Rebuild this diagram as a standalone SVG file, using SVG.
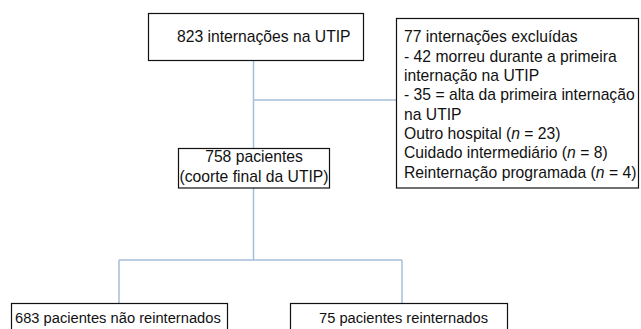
<svg xmlns="http://www.w3.org/2000/svg" width="641" height="329" viewBox="0 0 641 329">
<style>
.box{fill:#fff;stroke:#111;stroke-width:1.2}
.t{font-family:"Liberation Sans",Arial,sans-serif;font-size:15.7px;fill:#111}
.s{font-size:14.7px}
.c{fill:none;stroke:#a6bfd9;stroke-width:1.5}
</style>
<rect width="641" height="329" fill="#fff"/>
<g id="connectors">
<path class="c" d="M253.5 61V148"/>
<path class="c" d="M253.5 100H396"/>
<path class="c" d="M253.5 188V260M119 260H402M119 260V303M402 260V303"/>
</g>
<g id="n1">
<rect class="box" x="148.5" y="13.5" width="215" height="47"/>
<text class="t" x="177" y="42">823 internações na UTIP</text>
</g>
<g id="n2">
<rect class="box" x="396.5" y="18.5" width="242" height="169.5"/>
<text class="t" x="404">
<tspan x="404" y="42">77 internações excluídas</tspan>
<tspan x="404" y="61.5">- 42 morreu durante a primeira</tspan>
<tspan x="404" y="81">internação na UTIP</tspan>
<tspan x="404" y="100">- 35 = alta da primeira internação</tspan>
<tspan x="404" y="119.5">na UTIP</tspan>
<tspan x="404" y="139">Outro hospital (<tspan font-style="italic">n</tspan> = 23)</tspan>
<tspan x="404" y="158">Cuidado intermediário (<tspan font-style="italic">n</tspan> = 8)</tspan>
<tspan x="404" y="177.5">Reinternação programada (<tspan font-style="italic">n</tspan> = 4)</tspan>
</text>
</g>
<g id="n3">
<rect class="box" x="178.5" y="148.5" width="151" height="39.5"/>
<text class="t" x="254" y="162" text-anchor="middle">758 pacientes</text>
<text class="t" x="254" y="181.5" text-anchor="middle">(coorte final da UTIP)</text>
</g>
<g id="n4">
<rect class="box" x="11.5" y="303.5" width="216" height="40"/>
<text class="t s" x="15" y="323">683 pacientes não reinternados</text>
</g>
<g id="n5">
<rect class="box" x="290.5" y="303.5" width="217" height="40"/>
<text class="t s" x="319" y="323">75 pacientes reinternados</text>
</g>
</svg>
